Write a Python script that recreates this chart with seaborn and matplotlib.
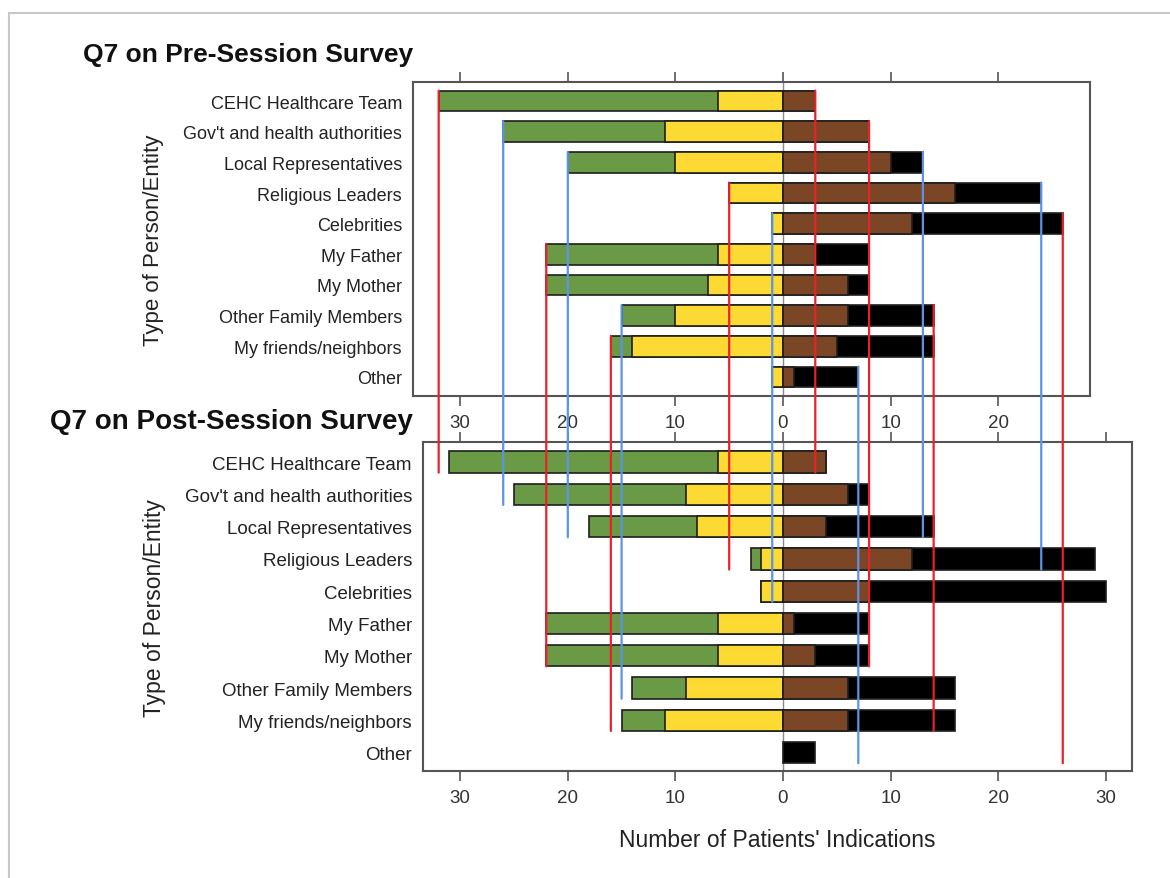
import numpy as np
import pandas as pd
import matplotlib
matplotlib.use("Agg")
import matplotlib.pyplot as plt
from matplotlib.patches import ConnectionPatch, Rectangle
import seaborn as sns

##################################################################################################
# Data (counts of patients' indications)
categories = ["CEHC Healthcare Team", "Gov't and health authorities", "Local Representatives",
              "Religious Leaders", "Celebrities", "My Father", "My Mother",
              "Other Family Members", "My friends/neighbors", "Other"]

# negative side: green (outer) and yellow (inner); positive side: brown (inner) and black (outer)
pre_green = [26, 15, 10, 0, 0, 16, 15, 5, 2, 0]
pre_yellow = [6, 11, 10, 5, 1, 6, 7, 10, 14, 1]
pre_brown = [3, 8, 10, 16, 12, 3, 6, 6, 5, 1]
pre_black = [0, 0, 3, 8, 14, 5, 2, 8, 9, 6]

post_green = [25, 16, 10, 1, 0, 16, 16, 5, 4, 0]
post_yellow = [6, 9, 8, 2, 2, 6, 6, 9, 11, 0]
post_brown = [4, 6, 4, 12, 8, 1, 3, 6, 6, 0]
post_black = [0, 2, 10, 17, 22, 7, 5, 10, 10, 3]

tick_values = [-30, -20, -10, 0, 10, 20, 30]

# reference lines: side of the pre-session bar, pre category, post category where the line stops
ref_side = ["neg", "neg", "neg", "neg", "neg", "neg", "neg", "neg",
            "pos", "pos", "pos", "pos", "pos", "pos", "pos"]
ref_start = ["CEHC Healthcare Team", "Gov't and health authorities", "Local Representatives",
             "Religious Leaders", "Celebrities", "My Father", "Other Family Members",
             "My friends/neighbors", "CEHC Healthcare Team", "Gov't and health authorities",
             "Local Representatives", "Religious Leaders", "Celebrities",
             "Other Family Members", "Other"]
ref_end = ["CEHC Healthcare Team", "Gov't and health authorities", "Local Representatives",
           "Religious Leaders", "Celebrities", "My Mother", "Other Family Members",
           "My friends/neighbors", "CEHC Healthcare Team", "My Mother",
           "Local Representatives", "Religious Leaders", "Other",
           "My friends/neighbors", "Other"]
ref_color = ["red", "blue", "blue", "red", "blue", "red", "blue", "red",
             "red", "red", "blue", "blue", "red", "red", "blue"]

GREEN, YELLOW, BROWN, BLACK = "#6a9a46", "#fcd933", "#7a4625", "#000000"
LINE_COLORS = {"red": "#e8222b", "blue": "#5b93e8"}

##################################################################################################
sns.set_theme(style="white")
plt.rcParams['font.family'] = ['Liberation Sans', 'DejaVu Sans']

W, H = 1170, 879
fig = plt.figure(figsize=(W / 100, H / 100), dpi=100)

PX = 10.76   # pixels per unit on both panels
X0 = 783     # pixel of zero


def add_panel(left, right, top, bottom, y_lo, y_hi):
    ax = fig.add_axes([left / W, 1 - bottom / H, (right - left) / W, (bottom - top) / H])
    ax.set_xlim((left - X0) / PX, (right - X0) / PX)
    return ax, (y_hi, y_lo)


def draw_bars(ax, green, yellow, brown, black, width):
    df = pd.DataFrame({"cat": categories, "green": green, "yellow": yellow,
                       "brown": brown, "black": black})
    df["neg_outer"] = -(df["green"] + df["yellow"])
    df["neg_inner"] = -df["yellow"]
    df["pos_outer"] = df["brown"] + df["black"]
    df["pos_inner"] = df["brown"]
    for col, colour in [("neg_outer", GREEN), ("neg_inner", YELLOW),
                        ("pos_outer", BLACK), ("pos_inner", BROWN)]:
        sub = df[df[col] != 0]
        sns.barplot(data=sub, x=col, y="cat", order=categories, orient="h",
                    color=colour, saturation=1, width=width, errorbar=None,
                    edgecolor="#1e1e1e", linewidth=1.2, ax=ax, zorder=2)
    ax.axvline(0, color="#8a8a8a", lw=1.0, zorder=1)


def style_axis(ax, ylim, label_size):
    ax.set_ylim(*ylim)
    ax.set_xlabel("")
    ax.set_ylabel("")
    ax.set_xticks(tick_values)
    ax.set_xticklabels([str(abs(v)) for v in tick_values])
    ax.tick_params(axis="x", bottom=True, top=True, labelbottom=True, labeltop=False,
                   direction="out", length=7, width=1.2, color="#555555",
                   labelsize=13.5, labelcolor="#333333", pad=6)
    ax.tick_params(axis="y", left=False, length=0, labelsize=label_size,
                   labelcolor="#222222", pad=8)
    for sp in ax.spines.values():
        sp.set_color("#555555")
        sp.set_linewidth(1.5)


# top panel (pre-session)
ax_pre, ylim_pre = add_panel(413, 1090, 83, 397, -0.62, 9.62)
draw_bars(ax_pre, pre_green, pre_yellow, pre_brown, pre_black, 0.68)
style_axis(ax_pre, ylim_pre, 13)
ax_pre.set_xlim((413 - X0) / PX, (1090 - X0) / PX)

# bottom panel (post-session)
ax_post, ylim_post = add_panel(423, 1132, 443, 772, -0.62, 9.57)
draw_bars(ax_post, post_green, post_yellow, post_brown, post_black, 0.66)
style_axis(ax_post, ylim_post, 13.5)
ax_post.set_xlim((423 - X0) / PX, (1132 - X0) / PX)

# reference lines from pre-session totals down into the post-session panel
for side, start, end, col in zip(ref_side, ref_start, ref_end, ref_color):
    i = categories.index(start)
    j = categories.index(end)
    if side == "neg":
        xv = -(pre_green[i] + pre_yellow[i])
    else:
        xv = pre_brown[i] + pre_black[i]
    con = ConnectionPatch(xyA=(xv, i - 0.34), coordsA=ax_pre.transData,
                          xyB=(xv, j + 0.33), coordsB=ax_post.transData,
                          color=LINE_COLORS[col], lw=1.6, zorder=5)
    fig.add_artist(con)

# titles and labels
fig.text(413 / W, 1 - 55 / H, "Q7 on Pre-Session Survey", ha="right", va="center",
         fontsize=19, fontweight="bold", color="#111111")
fig.text(413 / W, 1 - 422 / H, "Q7 on Post-Session Survey", ha="right", va="center",
         fontsize=20, fontweight="bold", color="#111111")
fig.text(154 / W, 1 - 240 / H, "Type of Person/Entity", rotation=90, ha="center",
         va="center", fontsize=16, color="#222222")
fig.text(154 / W, 1 - 608 / H, "Type of Person/Entity", rotation=90, ha="center",
         va="center", fontsize=16.5, color="#222222")
fig.text(777 / W, 1 - 841 / H, "Number of Patients' Indications", ha="center",
         va="center", fontsize=16.5, color="#222222")

# light frame of the original screenshot
fig.add_artist(Rectangle((9 / W, -0.1), 1.2, 1 - 14 / H + 0.1, transform=fig.transFigure,
                         fill=False, edgecolor="#c8c8c8", lw=1.5))

fig.savefig("out.png", dpi=100)
